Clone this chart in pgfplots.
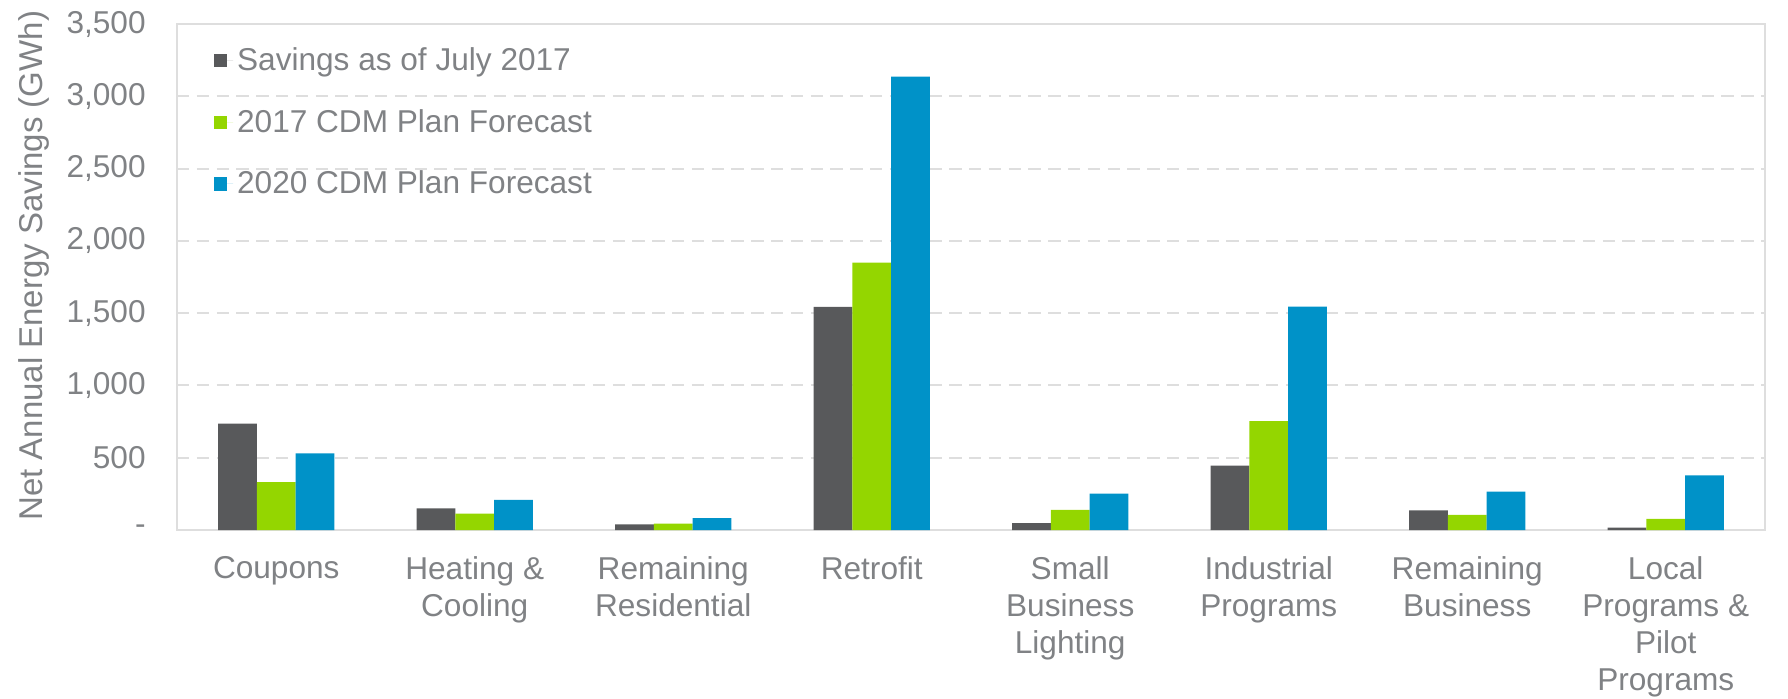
\documentclass[border=0pt]{standalone}
\usepackage{pgfplots}
\pgfplotsset{compat=1.18}
\usepackage{fontspec}
\setmainfont{Liberation Sans}
\definecolor{cDark}{RGB}{88,89,91}
\definecolor{cGreen}{RGB}{148,214,0}
\definecolor{cBlue}{RGB}{0,146,200}
\definecolor{cText}{RGB}{128,130,133}
\definecolor{cGrid}{RGB}{222,222,222}
\pgfplotsset{sq legend/.style={legend image code/.code={\path (0pt,0pt) -- (9.6pt,0pt); \fill[##1] (0pt,-3.3pt) rectangle (6.6pt,3.3pt);}}}
\begin{document}
\begin{tikzpicture}
\useasboundingbox (-88.5pt,-84pt) rectangle (805.5pt,265pt);
\begin{axis}[
  scale only axis, width=794pt, height=253pt,
  ybar=0pt, bar width=19.4pt,
  xmin=-0.5, xmax=7.5, ymin=0, ymax=3500,
  xtick={0,...,7},
  xticklabels={{Coupons},{Heating \&\\Cooling},{Remaining\\Residential},{Retrofit},{Small\\Business\\Lighting},{Industrial\\Programs},{Remaining\\Business},{Local\\Programs \&\\Pilot\\Programs}},
  ytick={0,500,...,3500},
  yticklabels={-,500,{1,000},{1,500},{2,000},{2,500},{3,000},{3,500}},
  major tick length=0pt,
  axis line style={cGrid, line width=1pt},
  ymajorgrids, grid style={cGrid, line width=1pt, dash pattern=on 6.2pt off 3.7pt},
  tick label style={font=\fontsize{15.8}{18.25}\selectfont, text=cText},
  xticklabel style={align=center, anchor=north, inner sep=0pt, yshift=-13pt, font=\fontsize{15.8}{18.5}\selectfont},
  yticklabel style={anchor=east, inner sep=0pt, xshift=-15.5pt},
  ylabel={Net Annual Energy Savings (GWh)},
  ylabel style={at={(axis description cs:-0.090,0.522)}, anchor=center, rotate=0, font=\fontsize{16.5}{19}\selectfont, text=cText},
  legend style={draw=none, fill=none, at={(axis description cs:0.023,0.962)}, anchor=north west,
    font=\fontsize{15.8}{18.25}\selectfont, text=cText, row sep=13.9pt, inner sep=0pt},
  legend cell align=left,
]
\addplot[fill=cDark, draw=none, sq legend] coordinates {(0,735) (1,150) (2,39) (3,1544) (4,48) (5,446) (6,136) (7,16)};
\addplot[fill=cGreen, draw=none, sq legend] coordinates {(0,331) (1,113) (2,44) (3,1850) (4,140) (5,754) (6,105) (7,77)};
\addplot[fill=cBlue, draw=none, sq legend] coordinates {(0,530) (1,209) (2,82) (3,3136) (4,252) (5,1546) (6,266) (7,378)};
\legend{Savings as of July 2017, 2017 CDM Plan Forecast, 2020 CDM Plan Forecast}
\end{axis}
\end{tikzpicture}
\end{document}
